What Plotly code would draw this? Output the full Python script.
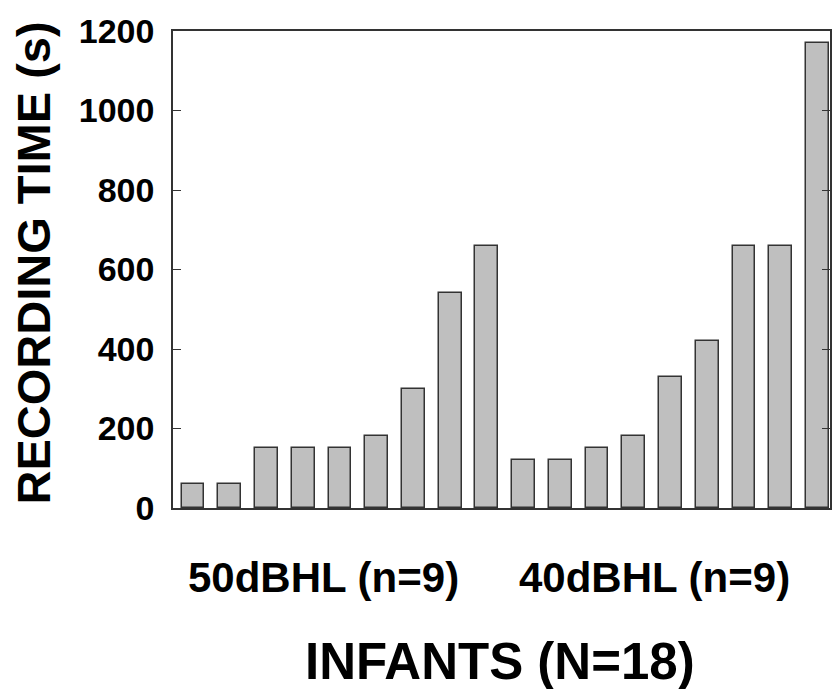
import plotly.graph_objects as go

# Data
infant_index = list(range(1, 19))
recording_time = [60, 60, 150, 150, 150, 180, 300, 540, 660,
                  120, 120, 150, 180, 330, 420, 660, 660, 1170]
group_labels = ["50dBHL (n=9)", "40dBHL (n=9)"]
group_centers = [4.54, 13.56]
y_ticks = [0, 200, 400, 600, 800, 1000, 1200]

FONT = "Liberation Sans, Arial, sans-serif"

fig = go.Figure()
fig.add_trace(go.Bar(
    x=infant_index, y=recording_time, width=0.62,
    marker=dict(color="#bfbfbf", line=dict(color="#333333", width=1.5)),
    showlegend=False,
))

fig.update_layout(
    width=832, height=689,
    margin=dict(l=173, r=0, t=31, b=181),
    paper_bgcolor="white", plot_bgcolor="white",
    bargap=0,
    font=dict(family=FONT, color="black"),
)
fig.update_xaxes(
    range=[0.457, 18.34], showticklabels=False, ticks="",
    showgrid=False, zeroline=False,
    showline=True, linecolor="#333333", linewidth=1.5, mirror=True,
)
fig.update_yaxes(
    range=[0, 1200], tickvals=y_ticks, ticks="inside", ticklen=8,
    tickwidth=1.2, tickcolor="#333333",
    showgrid=False, zeroline=False,
    showline=True, linecolor="#333333", linewidth=1.5, mirror="ticks",
    tickfont=dict(family=FONT, size=34, weight="bold", color="black"),
    ticklabelstandoff=10,
)

for lab, cx in zip(group_labels, group_centers):
    fig.add_annotation(x=cx, xref="x", y=-0.1457, yref="paper",
                       text=lab, showarrow=False, xanchor="center", yanchor="middle",
                       font=dict(family=FONT, size=42, weight="bold", color="black"))

fig.add_annotation(x=0.498, xref="paper", y=-0.3218, yref="paper",
                   text="INFANTS (N=18)", showarrow=False,
                   xanchor="center", yanchor="middle",
                   font=dict(family=FONT, size=51, weight="bold", color="black"))

fig.add_annotation(x=-0.2124, xref="paper", y=0.5136, yref="paper",
                   text="RECORDING TIME (s)", showarrow=False, textangle=-90,
                   xanchor="center", yanchor="middle",
                   font=dict(family=FONT, size=47, weight="bold", color="black"))

fig.write_html("out.html")
